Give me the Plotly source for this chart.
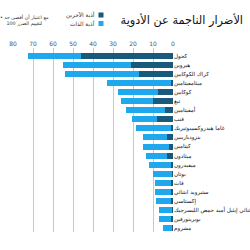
import plotly.graph_objects as go

drugs = ["كحول", "هيروين", "كراك الكوكايين", "ميثامفيتامين", "كوكايين", "تبغ",
         "أمفيتامين", "قنب", "غاما هيدروكسيبوتيريك", "بنزوديازيبين", "كيتامين",
         "ميثادون", "ميفيدرون", "بوتان", "قات", "ستيرويد ابتنائي", "إكستاسي",
         "ثنائي إيثيل أميد حمض الليسرجيك", "بوبرينورفين", "مشروم"]
harm_others = [46, 21, 17, 1, 7.5, 10, 4, 8, 1, 3, 2, 3, 1, 0.7, 1, 1, 1, 0.5, 1, 0.5]
harm_users = [26.5, 34, 37, 32, 20, 16, 19.5, 12.5, 17.5, 12, 13, 10.5, 11, 9.5, 8, 8, 7.5, 6.5, 6, 4.5]
ticks = [0, 10, 20, 30, 40, 50, 60, 70, 80]

name_others = "أذية الآخرين"
name_users = "أذية الذات"
title = "الأضرار الناجمة عن الأدوية"
note = "• مع اعتبار أن أقصى حد<br>لتقييم الضرر 100"

c_dark = "#19597c"
c_light = "#20a8ee"
FONT = "DejaVu Sans"

fig = go.Figure()
fig.add_trace(go.Bar(y=drugs, x=harm_others, orientation="h", name=name_others,
                     marker=dict(color=c_dark, line=dict(width=0)), width=0.66))
fig.add_trace(go.Bar(y=drugs, x=harm_users, orientation="h", name=name_users,
                     marker=dict(color=c_light, line=dict(width=0)), width=0.66))

L, R, T, B = 13, 77, 48, 18
W = H = 250
pw, ph = W - L - R, H - T - B

def px(x):
    return (x - L) / pw

def py(y):
    return (H - B - y) / ph

anns = [
    dict(x=px(97), y=py(15), xref="paper", yref="paper", xanchor="right", yanchor="middle",
         text=name_others, showarrow=False, font=dict(size=5.8, color="#333", family=FONT)),
    dict(x=px(97), y=py(23.5), xref="paper", yref="paper", xanchor="right", yanchor="middle",
         text=name_users, showarrow=False, font=dict(size=5.8, color="#333", family=FONT)),
    dict(x=px(24), y=py(20), xref="paper", yref="paper", xanchor="center", yanchor="middle",
         text=note, showarrow=False, align="center",
         font=dict(size=4.8, color="#333", family=FONT)),
]
shapes = [
    dict(type="rect", xref="paper", yref="paper", x0=px(98.5), x1=px(103.5),
         y0=py(17.5), y1=py(12.5), fillcolor=c_dark, line=dict(width=0)),
    dict(type="rect", xref="paper", yref="paper", x0=px(98.5), x1=px(103.5),
         y0=py(26), y1=py(21), fillcolor=c_light, line=dict(width=0)),
]

fig.update_layout(
    width=W, height=H,
    autosize=False,
    margin=dict(l=L, r=R, t=T, b=B, pad=0, autoexpand=False),
    barmode="stack",
    showlegend=False,
    plot_bgcolor="white",
    paper_bgcolor="white",
    font=dict(family=FONT),
    title=dict(text=title, x=0.972, xanchor="right", xref="container",
               y=1 - 20 / 250, yref="container", yanchor="middle",
               font=dict(size=11.3, color="#111", family=FONT)),
    annotations=anns,
    shapes=shapes,
    xaxis=dict(range=[80, 0], side="top", tickvals=ticks, showgrid=True,
               gridcolor="#c8c8c8", gridwidth=1, zeroline=False, automargin=False,
               tickfont=dict(size=6, color="#555", family=FONT), ticks="",
               showline=False, fixedrange=True),
    yaxis=dict(range=[19.44, -0.88], side="right", showgrid=False, automargin=False,
               tickfont=dict(size=5.6, color="#111", family=FONT), ticks="",
               showline=False, fixedrange=True),
    bargap=0.3,
)

fig.write_html("out.html")
